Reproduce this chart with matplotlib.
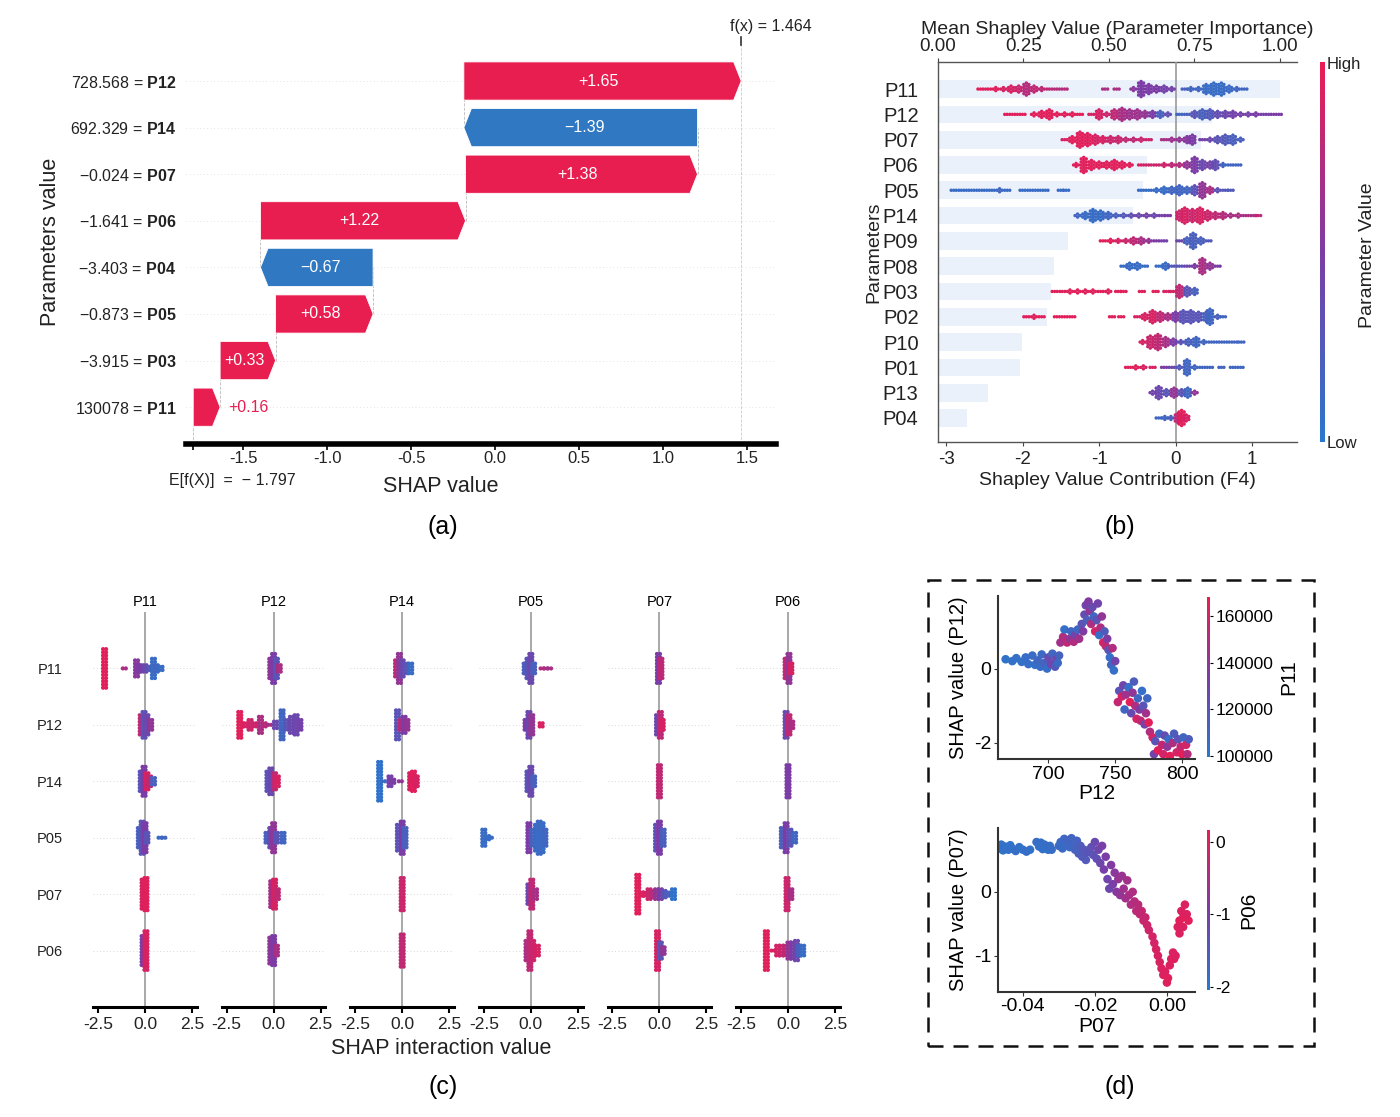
import numpy as np
import matplotlib
matplotlib.use("Agg")
import matplotlib.pyplot as plt
import matplotlib.transforms as mtransforms
from matplotlib.colors import LinearSegmentedColormap, Normalize
from matplotlib.colorbar import ColorbarBase
from matplotlib.patches import Polygon, Rectangle

W, H = 1400, 1117

plt.rcParams['font.family'] = ['Liberation Sans', 'DejaVu Sans']
plt.rcParams['mathtext.fontset'] = 'custom'
plt.rcParams['mathtext.rm'] = 'Liberation Sans'
plt.rcParams['mathtext.bf'] = 'Liberation Sans:bold'
plt.rcParams['axes.unicode_minus'] = False

RED = '#E91E50'
BLUE = '#3079C2'
cmap = LinearSegmentedColormap.from_list('shap_like', ['#2878CD', '#7C3CA6', '#EC1C52'])

# ---------------- (a) waterfall data ----------------
feat_a = ['P11', 'P03', 'P05', 'P04', 'P06', 'P07', 'P14', 'P12']  # bottom -> top
vals_a = ['130078', '\u22123.915', '\u22120.873', '\u22123.403', '\u22121.641',
          '\u22120.024', '692.329', '728.568']
shap_a = [0.16, 0.33, 0.58, -0.67, 1.22, 1.38, -1.39, 1.65]
base_a = -1.797
fx_a = 1.464

# ---------------- (b) beeswarm data: (x, stack height, colour 0=low 1=high) ----------------
feat_b = ['P11', 'P12', 'P07', 'P06', 'P05', 'P14', 'P09', 'P08', 'P03', 'P02', 'P10', 'P01', 'P13', 'P04']
mean_b = [1.00, 0.80, 0.77, 0.61, 0.60, 0.57, 0.38, 0.34, 0.33, 0.32, 0.245, 0.24, 0.145, 0.085]

swarm_p11 = [(-2.55, 1, .95), (-2.45, 1, .95), (-2.35, 2, .95), (-2.25, 2, .9), (-2.15, 3, .9), (-2.05, 3, .85),
             (-1.95, 5, .75), (-1.85, 3, .8), (-1.75, 2, .8), (-1.65, 1, .8), (-1.55, 1, .75), (-1.45, 1, .75),
             (-0.92, 1, .7), (-0.77, 1, .7), (-0.55, 2, .55), (-0.45, 6, .5), (-0.35, 4, .5), (-0.25, 3, .5),
             (-0.15, 3, .45), (-0.05, 2, .45), (0.12, 1, .2), (0.2, 2, .15), (0.3, 2, .15), (0.4, 4, .1),
             (0.5, 5, .1), (0.6, 5, .1), (0.7, 3, .12), (0.8, 2, .15), (0.9, 1, .15)]
swarm_p12 = [(-2.2, 1, .95), (-2.1, 1, .95), (-2.0, 1, .95), (-1.85, 2, .95), (-1.75, 3, .95), (-1.65, 4, .95),
             (-1.55, 2, .95), (-1.45, 2, .95), (-1.35, 2, .95), (-1.25, 1, .95), (-1.1, 1, .9), (-1.0, 4, .9),
             (-0.9, 2, .85), (-0.8, 4, .8), (-0.7, 5, .7), (-0.6, 4, .65), (-0.5, 4, .65), (-0.4, 3, .6),
             (-0.3, 3, .5), (-0.2, 3, .2), (-0.1, 2, .35), (0.05, 1, .15), (0.15, 1, .2), (0.25, 3, .3),
             (0.35, 4, .2), (0.45, 4, .25), (0.55, 3, .35), (0.65, 3, .4), (0.75, 3, .45), (0.85, 2, .45),
             (0.95, 2, .45), (1.05, 2, .5), (1.15, 1, .45), (1.25, 1, .5), (1.35, 1, .5)]
swarm_p07 = [(-1.45, 1, .9), (-1.35, 3, .95), (-1.25, 6, .95), (-1.15, 5, .95), (-1.05, 4, .9), (-0.95, 3, .9),
             (-0.85, 3, .85), (-0.75, 3, .85), (-0.65, 2, .8), (-0.55, 2, .8), (-0.45, 2, .85), (-0.35, 1, .85),
             (-0.15, 1, .7), (-0.05, 2, .65), (0.05, 2, .6), (0.15, 3, .55), (0.22, 4, .5), (0.35, 1, .45),
             (0.45, 2, .4), (0.55, 3, .3), (0.65, 4, .25), (0.75, 4, .2), (0.85, 2, .2)]
swarm_p06 = [(-1.3, 2, .95), (-1.2, 6, .95), (-1.1, 4, .95), (-1.0, 3, .95), (-0.9, 3, .95), (-0.8, 4, .95),
             (-0.7, 3, .95), (-0.6, 2, .95), (-0.45, 1, .9), (-0.35, 1, .85), (-0.25, 1, .85), (-0.15, 2, .85),
             (-0.05, 2, .8), (0.05, 2, .75), (0.15, 3, .6), (0.25, 6, .5), (0.35, 4, .4), (0.45, 3, .45),
             (0.52, 4, .35), (0.62, 2, .15), (0.72, 1, .15), (0.82, 1, .15)]
swarm_p05 = [(-2.9, 1, .1), (-2.8, 1, .1), (-2.7, 1, .1), (-2.6, 1, .1), (-2.5, 1, .1), (-2.4, 1, .1),
             (-2.3, 2, .15), (-2.2, 1, .1), (-2.0, 1, .1), (-1.9, 1, .1), (-1.8, 1, .1), (-1.7, 1, .1),
             (-1.5, 1, .1), (-1.43, 1, .1), (-0.45, 1, .1), (-0.35, 1, .1), (-0.25, 2, .1), (-0.15, 3, .1),
             (-0.05, 3, .15), (0.05, 4, .15), (0.15, 3, .15), (0.25, 4, .3), (0.35, 6, .6), (0.45, 3, .7),
             (0.55, 2, .3), (0.65, 1, .25), (0.72, 1, .25)]
swarm_p14 = [(-1.28, 2, .15), (-1.18, 3, .1), (-1.08, 5, .1), (-0.98, 4, .1), (-0.88, 3, .15), (-0.78, 2, .2),
             (-0.68, 2, .25), (-0.58, 2, .35), (-0.48, 2, .4), (-0.38, 2, .45), (-0.28, 2, .4), (-0.18, 1, .45),
             (-0.1, 1, .5), (0.05, 4, .85), (0.12, 6, .9), (0.22, 5, .85), (0.32, 6, .9), (0.42, 4, .85),
             (0.52, 3, .8), (0.62, 3, .75), (0.72, 2, .7), (0.82, 2, .7), (0.92, 1, .7), (1.02, 1, .7), (1.08, 1, .8)]
swarm_p09 = [(-0.95, 1, .95), (-0.85, 2, .95), (-0.75, 2, .9), (-0.65, 2, .85), (-0.55, 3, .8), (-0.45, 3, .7),
             (-0.35, 2, .6), (-0.25, 1, .5), (-0.15, 1, .45), (0.05, 1, .4), (0.15, 3, .2), (0.23, 6, .2),
             (0.33, 3, .2), (0.43, 1, .25)]
swarm_p08 = [(-0.68, 1, .1), (-0.6, 3, .1), (-0.5, 3, .1), (-0.4, 1, .1), (-0.22, 1, .1), (-0.13, 3, .1),
             (-0.05, 1, .25), (0.05, 1, .3), (0.15, 1, .4), (0.25, 2, .5), (0.35, 6, .7), (0.45, 3, .6), (0.55, 1, .5)]
swarm_p03 = [(-1.58, 1, .95), (-1.48, 1, .95), (-1.38, 2, .95), (-1.28, 2, .95), (-1.18, 2, .95), (-1.08, 2, .95),
             (-0.98, 1, .95), (-0.88, 2, .95), (-0.75, 1, .95), (-0.68, 1, .95), (-0.44, 1, .95), (-0.26, 1, .95),
             (-0.12, 1, .9), (-0.03, 1, .9), (0.05, 5, .8), (0.15, 4, .3), (0.25, 3, .2)]
swarm_p02 = [(-1.95, 1, .95), (-1.85, 2, .95), (-1.75, 1, .95), (-1.55, 1, .95), (-1.45, 1, .95), (-1.35, 1, .95),
             (-0.83, 1, .95), (-0.71, 1, .95), (-0.5, 1, .9), (-0.4, 3, .9), (-0.3, 5, .9), (-0.2, 4, .8),
             (-0.1, 3, .7), (0.0, 4, .5), (0.1, 5, .3), (0.2, 5, .3), (0.3, 4, .3), (0.4, 4, .2), (0.45, 6, .15),
             (0.55, 2, .2), (0.62, 1, .15)]
swarm_p10 = [(-0.43, 2, .9), (-0.33, 5, .85), (-0.23, 6, .8), (-0.13, 4, .7), (-0.03, 3, .5), (0.07, 2, .3),
             (0.17, 3, .2), (0.27, 4, .15), (0.37, 2, .15), (0.47, 1, .15), (0.57, 1, .15), (0.67, 1, .15),
             (0.77, 1, .15), (0.86, 1, .15)]
swarm_p01 = [(-0.62, 1, .95), (-0.52, 2, .95), (-0.42, 2, .9), (-0.3, 1, .9), (-0.15, 1, .5), (-0.05, 1, .4),
             (0.05, 2, .25), (0.15, 6, .15), (0.25, 2, .15), (0.35, 1, .15), (0.45, 1, .15), (0.6, 1, .15),
             (0.75, 1, .15), (0.85, 1, .15)]
swarm_p13 = [(-0.3, 2, .45), (-0.22, 5, .4), (-0.12, 3, .3), (-0.02, 4, .6), (0.08, 3, .3), (0.16, 4, .15), (0.25, 2, .6)]
swarm_p04 = [(-0.22, 1, .15), (-0.14, 2, .15), (-0.06, 2, .2), (0.03, 4, .8), (0.08, 6, .95), (0.14, 3, .9)]
swarms_b = [swarm_p11, swarm_p12, swarm_p07, swarm_p06, swarm_p05, swarm_p14, swarm_p09,
            swarm_p08, swarm_p03, swarm_p02, swarm_p10, swarm_p01, swarm_p13, swarm_p04]

# ---------------- (c) interaction data, one list per column (rows P11, P12, P14, P05, P07, P06) ----------------
feat_c = ['P11', 'P12', 'P14', 'P05', 'P07', 'P06']
inter_p11 = [
    [(-2.15, 13, .95), (-1.1, 1, .7), (-0.45, 6, .55), (-0.3, 3, .5), (0.0, 3, .4), (0.2, 2, .3), (0.45, 7, .1), (0.6, 3, .15), (0.85, 2, .1)],
    [(-0.2, 7, .8), (-0.05, 9, .3), (0.1, 7, .4), (0.3, 4, .6)],
    [(-0.2, 7, .3), (-0.05, 10, .5), (0.1, 6, .9), (0.25, 4, .8), (0.45, 3, .2)],
    [(-0.3, 7, .2), (-0.15, 11, .3), (0.0, 10, .5), (0.1, 4, .3), (0.8, 1, .1), (1.0, 1, .15)],
    [(-0.1, 10, .9), (0.05, 11, .95)],
    [(-0.1, 10, .5), (0.05, 13, .9)]]
inter_p12 = [
    [(-0.15, 7, .6), (0.0, 10, .5), (0.15, 7, .3), (0.3, 3, .7)],
    [(-1.8, 9, .95), (-1.5, 2, .9), (-1.25, 4, .85), (-1.0, 2, .85), (-0.7, 6, .7), (-0.5, 2, .75), (-0.2, 1, .7),
     (0.1, 3, .4), (0.45, 10, .15), (0.7, 4, .3), (0.95, 6, .4), (1.2, 7, .4), (1.4, 4, .45)],
    [(-0.3, 7, .3), (-0.15, 9, .4), (0.05, 6, .8), (0.2, 4, .9)],
    [(-0.35, 4, .2), (-0.15, 7, .4), (0.0, 10, .6), (0.15, 4, .3), (0.5, 4, .15)],
    [(-0.1, 9, .7), (0.05, 10, .9), (0.2, 4, .8)],
    [(-0.15, 9, .6), (0.0, 10, .5), (0.15, 4, .7)]]
inter_p14 = [
    [(-0.3, 6, .8), (-0.15, 10, .6), (0.0, 6, .4), (0.2, 4, .3), (0.45, 4, .1)],
    [(-0.25, 10, .3), (-0.05, 4, .8), (0.1, 6, .5), (0.25, 4, .6)],
    [(-1.2, 13, .05), (-1.0, 1, .1), (-0.65, 4, .45), (-0.5, 2, .5), (-0.1, 1, .6), (0.45, 6, .9), (0.6, 7, .95), (0.75, 4, .9)],
    [(-0.2, 9, .3), (0.0, 11, .5), (0.15, 7, .2)],
    [(0.0, 11, .85)],
    [(0.0, 11, .8)]]
inter_p05 = [
    [(-0.3, 4, .2), (-0.15, 7, .3), (0.0, 10, .4), (0.15, 4, .2), (0.6, 1, .75), (0.8, 1, .7), (1.0, 1, .7)],
    [(-0.25, 4, .5), (-0.1, 9, .4), (0.05, 7, .6), (0.55, 2, .9)],
    [(-0.15, 7, .3), (0.0, 10, .4), (0.15, 4, .2)],
    [(-2.5, 6, .1), (-2.3, 2, .1), (-2.15, 1, .1), (-0.1, 10, .5), (0.1, 6, .2), (0.3, 9, .1), (0.45, 11, .12), (0.6, 10, .1), (0.75, 6, .15)],
    [(-0.1, 7, .4), (0.05, 10, .8), (0.25, 4, .7)],
    [(-0.2, 7, .7), (-0.05, 13, .8), (0.1, 7, .85), (0.35, 4, .9)]]
inter_p07 = [
    [(-0.05, 10, .5), (0.08, 7, .8)],
    [(-0.1, 7, .4), (0.05, 9, .8), (0.15, 4, .9)],
    [(0.0, 11, .8)],
    [(-0.15, 9, .3), (0.0, 11, .5), (0.2, 6, .2)],
    [(-1.15, 13, .95), (-0.95, 2, .95), (-0.75, 2, .9), (-0.55, 4, .85), (-0.35, 3, .75), (-0.15, 4, .6), (0.05, 4, .5),
     (0.25, 3, .3), (0.45, 2, .2), (0.75, 4, .05)],
    [(-0.1, 13, .9), (0.05, 6, .3), (0.2, 3, .6)]]
inter_p06 = [
    [(-0.1, 7, .8), (0.05, 10, .6), (0.15, 4, .9)],
    [(-0.1, 9, .4), (0.05, 7, .8), (0.2, 3, .7)],
    [(0.0, 11, .5)],
    [(-0.3, 7, .2), (-0.1, 10, .5), (0.1, 6, .3), (0.35, 4, .15)],
    [(-0.05, 11, .85), (0.15, 4, .7)],
    [(-1.15, 13, .95), (-0.8, 1, .9), (-0.55, 4, .9), (-0.35, 4, .85), (-0.15, 4, .8), (0.05, 6, .6), (0.25, 6, .5),
     (0.45, 7, .4), (0.6, 4, .2), (0.78, 4, .1)]]
inter_cols = [inter_p11, inter_p12, inter_p14, inter_p05, inter_p07, inter_p06]

# ---------------- (d) dependence data (x, shap, colour feature) ----------------
dep_p12 = [
    (668, 0.25, 103000), (673, 0.2, 104000), (676, 0.28, 105000), (680, 0.18, 104000), (683, 0.3, 106000),
    (685, 0.12, 105000), (688, 0.35, 107000), (690, 0.1, 104000), (692, 0.22, 110000), (694, 0.05, 106000),
    (695, 0.38, 108000), (697, 0.15, 112000), (699, 0.0, 106000), (700, 0.3, 125000), (702, 0.12, 128000),
    (703, 0.4, 110000), (705, 0.05, 118000), (706, 0.25, 130000), (707, 0.15, 108000), (708, 0.35, 112000),
    (709, 0.7, 145000), (711, 0.85, 150000), (712, 1.05, 105000), (714, 0.7, 155000), (716, 0.8, 140000),
    (717, 1.0, 110000), (719, 0.72, 150000), (720, 0.9, 130000), (722, 1.05, 110000), (723, 0.8, 145000),
    (725, 1.2, 120000), (726, 1.0, 135000), (727, 1.45, 125000), (728, 1.7, 130000), (729, 1.3, 115000),
    (730, 1.8, 135000), (731, 1.55, 140000), (732, 1.2, 150000), (733, 1.65, 125000), (734, 1.4, 110000),
    (735, 1.0, 160000), (736, 1.3, 120000), (737, 1.75, 130000), (738, 0.9, 105000), (739, 1.1, 150000),
    (740, 1.4, 140000), (741, 0.7, 160000), (742, 1.0, 115000), (743, 0.6, 155000), (744, 0.8, 135000),
    (745, 0.5, 120000), (746, 0.3, 105000), (747, 0.1, 110000), (748, 0.55, 150000), (749, -0.05, 105000),
    (750, 0.2, 130000), (752, -0.9, 155000), (753, -0.6, 120000), (755, -0.75, 160000), (756, -0.45, 130000),
    (757, -1.1, 110000), (758, -0.7, 145000), (760, -0.5, 105000), (761, -0.9, 165000), (762, -1.2, 125000),
    (763, -0.65, 140000), (764, -0.35, 115000), (765, -1.0, 150000), (766, -1.35, 160000), (767, -0.8, 110000),
    (768, -1.1, 135000), (769, -1.4, 155000), (770, -0.6, 105000), (771, -1.0, 120000), (772, -1.5, 130000),
    (773, -1.2, 145000), (774, -0.8, 110000), (775, -1.45, 165000), (776, -1.7, 150000), (778, -1.85, 160000),
    (779, -2.3, 130000), (780, -1.95, 120000), (782, -2.2, 165000), (783, -1.75, 110000), (785, -2.05, 155000),
    (786, -2.3, 160000), (787, -1.8, 125000), (789, -2.1, 140000), (790, -1.9, 105000), (791, -2.35, 165000),
    (793, -2.0, 150000), (794, -1.75, 115000), (796, -2.25, 160000), (797, -1.9, 120000), (799, -2.1, 155000),
    (800, -2.3, 165000), (801, -1.85, 110000), (803, -2.05, 160000), (804, -2.3, 150000), (805, -1.9, 115000)]
dep_p07 = [
    (-0.0465, 0.68, -1.95), (-0.046, 0.74, -1.9), (-0.0455, 0.65, -1.95), (-0.045, 0.71, -1.9), (-0.044, 0.66, -1.9),
    (-0.0435, 0.73, -1.95), (-0.043, 0.68, -1.9), (-0.042, 0.64, -1.85), (-0.041, 0.7, -1.9), (-0.040, 0.66, -1.9),
    (-0.039, 0.63, -1.85), (-0.038, 0.66, -1.9), (-0.0362, 0.78, -1.85), (-0.0355, 0.71, -1.9), (-0.035, 0.77, -1.85),
    (-0.0345, 0.67, -1.9), (-0.034, 0.74, -1.85), (-0.033, 0.66, -1.9), (-0.0325, 0.72, -1.85), (-0.032, 0.66, -1.85),
    (-0.030, 0.72, -1.8), (-0.0295, 0.78, -1.8), (-0.029, 0.68, -1.8), (-0.0285, 0.83, -1.75), (-0.028, 0.74, -1.8),
    (-0.0275, 0.8, -1.7), (-0.027, 0.7, -1.75), (-0.0265, 0.84, -1.7), (-0.026, 0.76, -1.7), (-0.0255, 0.66, -1.65),
    (-0.025, 0.8, -1.65), (-0.0245, 0.6, -1.6), (-0.024, 0.72, -1.55), (-0.0235, 0.55, -1.5), (-0.023, 0.66, -1.45),
    (-0.0225, 0.5, -1.5), (-0.022, 0.62, -1.4), (-0.021, 0.7, -1.3), (-0.0205, 0.58, -1.35), (-0.020, 0.78, -1.2),
    (-0.0195, 0.52, -1.3), (-0.019, 0.66, -1.1), (-0.0185, 0.45, -1.15), (-0.018, 0.72, -1.0), (-0.0175, 0.35, -1.0),
    (-0.017, 0.55, -0.95), (-0.0165, 0.2, -1.1), (-0.016, 0.05, -1.15), (-0.0155, 0.42, -0.9), (-0.015, 0.12, -1.0),
    (-0.0145, 0.3, -0.8), (-0.014, 0.0, -0.85), (-0.0135, 0.2, -0.7), (-0.013, -0.05, -0.75), (-0.0125, 0.25, -0.65),
    (-0.012, 0.05, -0.6), (-0.0115, -0.1, -0.6), (-0.011, 0.18, -0.55), (-0.0105, -0.05, -0.5), (-0.010, -0.2, -0.45),
    (-0.0095, 0.0, -0.45), (-0.009, -0.15, -0.4), (-0.0085, -0.3, -0.35), (-0.008, -0.2, -0.35), (-0.0075, -0.35, -0.3),
    (-0.007, -0.3, -0.25), (-0.0065, -0.45, -0.2), (-0.006, -0.4, -0.2), (-0.0055, -0.52, -0.15), (-0.005, -0.6, -0.15),
    (-0.004, -0.7, -0.1), (-0.0035, -0.8, -0.1), (-0.003, -0.9, -0.05), (-0.0025, -1.0, -0.05), (-0.002, -1.1, -0.05),
    (-0.0015, -1.2, 0.0), (-0.001, -1.3, 0.0), (-0.0005, -1.25, 0.0), (0.0, -1.42, 0.0), (0.0003, -1.35, 0.05),
    (0.0008, -1.15, 0.0), (0.0012, -1.05, 0.0), (0.0017, -0.95, 0.0), (0.002, -1.05, 0.05), (0.0024, -1.0, 0.0),
    (0.003, -0.55, 0.0), (0.0035, -0.45, 0.05), (0.004, -0.3, 0.0), (0.0045, -0.4, 0.05), (0.005, -0.2, 0.0),
    (0.0055, -0.35, 0.0), (0.006, -0.45, 0.05), (0.0035, -0.65, 0.0), (0.0045, -0.55, 0.0)]


fig = plt.figure(figsize=(W / 100, H / 100), dpi=100)


def px_axes(l, t, r, b):
    # axes placed by pixel box of the reference picture
    return fig.add_axes([l / W, 1 - b / H, (r - l) / W, (b - t) / H])


def fig_text(x, y, s, **kw):
    fig.text(x / W, 1 - y / H, s, **kw)


def stack_points(groups, dx, dy, ncol):
    # beeswarm-like layout: each (x, h, c) becomes a small packed stack of dots
    xs, ys, cs = [], [], []
    for x, h, c in groups:
        for k in range(ncol):
            off = (k - (ncol - 1) / 2) * dx
            n = h if (k == (ncol - 1) // 2 or ncol == 2) else max(h - 1, 1)
            for j in range(n):
                xs.append(x + off)
                ys.append((j - (n - 1) / 2) * dy)
                cs.append(c)
    return np.array(xs), np.array(ys), np.array(cs)


# ================= (a) =================
ax = px_axes(186, 40, 776, 444)
ax.set_xlim(-1.84, 1.67)
ax.set_ylim(-0.79, 7.88)
starts = base_a + np.concatenate([[0], np.cumsum(shap_a)[:-1]])
hh = 0.41
for i, (s0, v) in enumerate(zip(starts, shap_a)):
    e = s0 + v
    col = RED if v > 0 else BLUE
    hl = min(0.045, abs(v)) * np.sign(v)
    poly = [(s0, i - hh), (e - hl, i - hh), (e, i), (e - hl, i + hh), (s0, i + hh)]
    ax.add_patch(Polygon(poly, closed=True, fc=col, ec='white', lw=0.6, zorder=3))
    txt = f"{v:+.2f}".replace('-', '\u2212')
    if abs(v) > 0.25:
        ax.text((s0 + e - hl) / 2, i, txt, color='white', ha='center', va='center', fontsize=11.5, zorder=4)
    else:
        ax.text(e + 0.05, i, txt, color=col, ha='left', va='center', fontsize=11.5, zorder=4)
    ax.axhline(i, color='#cccccc', lw=0.5, dashes=(1, 4), zorder=0)
    if i > 0:
        ax.plot([s0, s0], [i - 1, i], color='#bbbbbb', ls='--', lw=0.6, zorder=2)
ax.plot([base_a, base_a], [-0.79, 0], color='#bbbbbb', ls='--', lw=0.6, zorder=2)
ax.plot([fx_a, fx_a], [-0.79, 7.88], color='#cccccc', ls='--', lw=0.6, zorder=1)
ax.plot([fx_a, fx_a], [7.78, 7.95], color='#333333', lw=1.2, clip_on=False)
blend = mtransforms.blended_transform_factory(ax.transData, ax.transAxes)
ax.text(fx_a - 0.07, 1.033, 'f(x) = 1.464', transform=blend, ha='left', va='center', fontsize=11.5, color='#222')
ax.text(base_a + 0.23, -0.09, 'E[f(X)]  =  \u2212 1.797', transform=blend, ha='center', va='center',
        fontsize=11.5, color='#222')
ax.set_yticks(range(8))
ax.set_yticklabels([f"{v} = $\\mathbf{{{f}}}$" for v, f in zip(vals_a, feat_a)], fontsize=11.5, color='#222')
ax.tick_params(axis='y', length=0, pad=7)
ax.set_xticks([base_a, -1.5, -1.0, -0.5, 0.0, 0.5, 1.0, 1.5])
ax.set_xticklabels(['', '-1.5', '-1.0', '-0.5', '0.0', '0.5', '1.0', '1.5'], fontsize=12, color='#222')
ax.tick_params(axis='x', length=4, width=1.2, pad=1)
for sp in ['left', 'right', 'top']:
    ax.spines[sp].set_visible(False)
ax.spines['bottom'].set_linewidth(4)
ax.set_ylabel('Parameters value', fontsize=15.5, labelpad=6, color='#222')
fig_text(441, 486, 'SHAP value', ha='center', va='center', fontsize=15.5, color='#222')

# ================= (b) =================
axb = px_axes(938, 62, 1297, 442)
axt = axb.twiny()
axt.set_zorder(0)
axb.set_zorder(1)
axb.patch.set_visible(False)
axt.barh(range(len(feat_b)), mean_b, height=0.7, color='#EAF1FA', zorder=1)
axt.set_xlim(0, 1.05)
axb.set_xlim(-3.105, 1.588)
axb.set_ylim(13.95, -1.07)
axb.axvline(0, color='#999999', lw=1.2, zorder=1)
for i, grp in enumerate(swarms_b):
    xs, ys, cs = stack_points(grp, 0.033, 0.12, 3)
    axb.scatter(xs, i + ys, c=cs, cmap=cmap, vmin=0, vmax=1, s=6, linewidths=0, zorder=3)
axb.set_yticks(range(len(feat_b)))
axb.set_yticklabels(feat_b, fontsize=14.5, color='#222')
axb.tick_params(axis='y', length=0, pad=14)
axb.set_xticks([-3, -2, -1, 0, 1])
axb.set_xticklabels(['-3', '-2', '-1', '0', '1'], fontsize=13.5, color='#222')
axb.tick_params(axis='x', length=3, color='#444')
axt.set_xticks([0, 0.25, 0.5, 0.75, 1.0])
axt.set_xticklabels(['0.00', '0.25', '0.50', '0.75', '1.00'], fontsize=13.5, color='#222')
axt.tick_params(axis='x', length=3, color='#444', pad=2)
for sp in ['top', 'right']:
    axb.spines[sp].set_visible(False)
for sp in ['left', 'right', 'bottom']:
    axt.spines[sp].set_visible(False)
for a, sp in [(axb, 'left'), (axb, 'bottom'), (axt, 'top')]:
    a.spines[sp].set_color('#555555')
    a.spines[sp].set_linewidth(1.0)
axb.set_xlabel('Shapley Value Contribution (F4)', fontsize=14, color='#222', labelpad=3)
axt.set_xlabel('Mean Shapley Value (Parameter Importance)', fontsize=14, color='#222', labelpad=3)
axb.set_ylabel('Parameters', fontsize=14, color='#222', labelpad=0)
caxb = px_axes(1320, 62, 1325, 442)
cbb = ColorbarBase(caxb, cmap=cmap, norm=Normalize(0, 1))
cbb.set_ticks([])
cbb.outline.set_visible(False)
fig_text(1327, 65, 'High', ha='left', va='center', fontsize=12, color='#222')
fig_text(1327, 443, 'Low', ha='left', va='center', fontsize=12, color='#222')
fig_text(1368, 255, 'Parameter Value', ha='center', va='center', rotation=90, fontsize=14, color='#222')

# ================= (c) =================
for k, (name, cells) in enumerate(zip(feat_c, inter_cols)):
    zero = 145 + 128.6 * k
    axc = px_axes(zero - 51.7, 612, zero + 51.7, 1007)
    axc.set_xlim(-2.75, 2.75)
    axc.set_ylim(-1, 6)
    axc.axvline(0, color='#999999', lw=1.2, zorder=1)
    for r, cell in enumerate(cells):
        y0 = 5 - r
        axc.axhline(y0, color='#cccccc', lw=0.6, dashes=(1, 3), zorder=0)
        xs, ys, cs = stack_points(cell, 0.16, 0.057, 2)
        axc.scatter(xs, y0 + ys, c=cs, cmap=cmap, vmin=0, vmax=1, s=9, linewidths=0, zorder=3)
    axc.set_title(name, fontsize=10.5, pad=4)
    axc.set_xticks([-2.5, 0, 2.5])
    axc.set_xticklabels(['-2.5', '0.0', '2.5'], fontsize=12.5, color='#222')
    axc.tick_params(axis='x', length=4, width=1.5, pad=3)
    axc.set_yticks(range(6))
    if k == 0:
        axc.set_yticklabels(feat_c[::-1], fontsize=10.5, color='#222')
    else:
        axc.set_yticklabels([])
    axc.tick_params(axis='y', length=0, pad=22)
    for sp in ['left', 'right', 'top']:
        axc.spines[sp].set_visible(False)
    axc.spines['bottom'].set_linewidth(2.2)
fig_text(441, 1048, 'SHAP interaction value', ha='center', va='center', fontsize=15.5, color='#222')

# ================= (d) =================
fig.add_artist(Rectangle((928 / W, 1 - 1046 / H), (1314 - 928) / W, (1046 - 580) / H,
                         transform=fig.transFigure, fill=False, color='#111111', lw=1.8, ls=(0, (6, 4))))

d1 = np.array(dep_p12)
axd1 = px_axes(998, 596, 1195, 759)
sc1 = axd1.scatter(d1[:, 0], d1[:, 1], c=d1[:, 2], cmap=cmap, vmin=99600, vmax=168100, s=38, linewidths=0)
axd1.set_xlim(662.3, 809.7)
axd1.set_ylim(-2.43, 1.95)
axd1.set_xticks([700, 750, 800])
axd1.set_yticks([-2, 0])
axd1.set_xlabel('P12', fontsize=15, labelpad=1)
axd1.set_ylabel('SHAP value (P12)', fontsize=14.5, labelpad=4)
cax1 = px_axes(1207, 597, 1210, 757)
cb1 = fig.colorbar(sc1, cax=cax1)
cb1.set_ticks([100000, 120000, 140000, 160000])
cb1.set_label('P11', fontsize=15, labelpad=4)

d2 = np.array(dep_p07)
axd2 = px_axes(998, 828, 1195, 991.5)
sc2 = axd2.scatter(d2[:, 0], d2[:, 1], c=d2[:, 2], cmap=cmap, vmin=-2.047, vmax=0.166, s=38, linewidths=0)
axd2.set_xlim(-0.0469, 0.0078)
axd2.set_ylim(-1.56, 1.0)
axd2.set_xticks([-0.04, -0.02, 0.0])
axd2.set_xticklabels(['-0.04', '-0.02', '0.00'])
axd2.set_yticks([-1, 0])
axd2.set_xlabel('P07', fontsize=15, labelpad=1)
axd2.set_ylabel('SHAP value (P07)', fontsize=14.5, labelpad=4)
cax2 = px_axes(1207, 829.5, 1210, 990.4)
cb2 = fig.colorbar(sc2, cax=cax2)
cb2.set_ticks([-2, -1, 0])
cb2.set_label('P06', fontsize=15, labelpad=6)

for a in [axd1, axd2]:
    for sp in ['top', 'right']:
        a.spines[sp].set_visible(False)
    for sp in ['left', 'bottom']:
        a.spines[sp].set_color('#333333')
        a.spines[sp].set_linewidth(1.5)
    a.tick_params(labelsize=14, length=3, color='#333', pad=2)
for cb in [cb1, cb2]:
    cb.outline.set_visible(False)
    cb.ax.tick_params(labelsize=12.5, length=2, pad=2)

# panel letters
for x, y, s in [(443, 527, '(a)'), (1120, 527, '(b)'), (443, 1087, '(c)'), (1120, 1087, '(d)')]:
    fig_text(x, y, s, ha='center', va='center', fontsize=18)

fig.savefig('out.png', dpi=100)
